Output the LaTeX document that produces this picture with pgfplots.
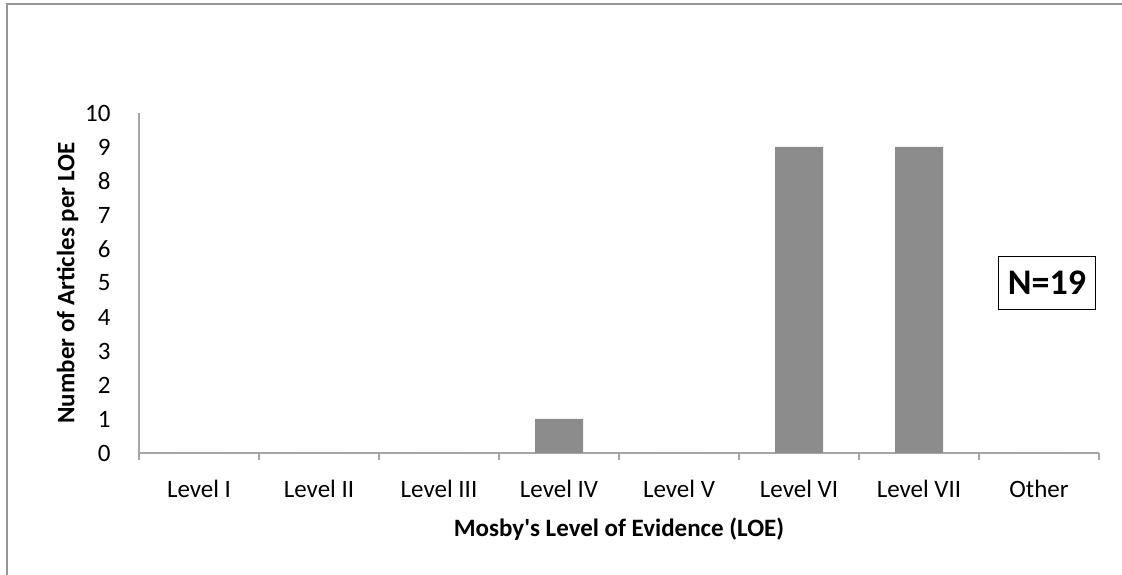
\documentclass[border=0pt]{standalone}
\usepackage{fontspec}
\setmainfont{Carlito}[Ligatures=TeXReset]
\usepackage{pgfplots}
\pgfplotsset{compat=1.18}
\definecolor{axgray}{RGB}{166,166,166}
\definecolor{bargray}{RGB}{140,140,140}
\definecolor{framegray}{RGB}{150,150,150}

\begin{document}
\begin{tikzpicture}
\path[use as bounding box] (0,0) rectangle (1122pt,575pt);
% chart frame (only top and left edges visible)
\draw[framegray, line width=1.2pt] (7pt,0) -- (7pt,571pt) -- (1122pt,571pt);
\begin{axis}[
    at={(139pt,122pt)}, anchor=origin,
    scale only axis,
    width=960pt, height=340pt,
    xmin=0, xmax=8, ymin=0, ymax=10,
    axis x line*=bottom, axis y line*=left,
    axis line style={axgray, line width=1.2pt, -},
    xtick={0.5,1.5,...,7.5},
    xticklabels={Level I, Level II, Level III, Level IV, Level V, Level VI, Level VII, Other},
    minor xtick={0,1,...,8},
    major tick length=0pt,
    minor tick length=7pt,
    tick align=outside,
    minor tick style={axgray, line width=1.2pt},
    ytick={0,1,...,10},
    ticklabel style={font=\fontsize{25}{30}\selectfont},
    /pgf/number format/assume math mode=true,
    xticklabel style={yshift=-24pt},
    yticklabel style={xshift=-25pt},
    xlabel={\textbf{Mosby's Level of Evidence (LOE)}},
    ylabel={\textbf{Number of Articles per LOE}},
    label style={font=\fontsize{25}{30}\selectfont},
    xlabel style={yshift=-13pt},
    ylabel style={yshift=0pt},
    ybar, bar width=48pt,
    clip=false,
]
\addplot[fill=bargray, draw=none] coordinates {
    (0.5,0) (1.5,0) (2.5,0) (3.5,1) (4.5,0) (5.5,9) (6.5,9) (7.5,0)
};
\end{axis}
\node[draw, line width=1.2pt, minimum width=97pt, minimum height=53pt, inner sep=0pt,
      font=\fontsize{36}{40}\selectfont\bfseries] at (1047pt,292pt) {N=19};
\end{tikzpicture}
\end{document}
